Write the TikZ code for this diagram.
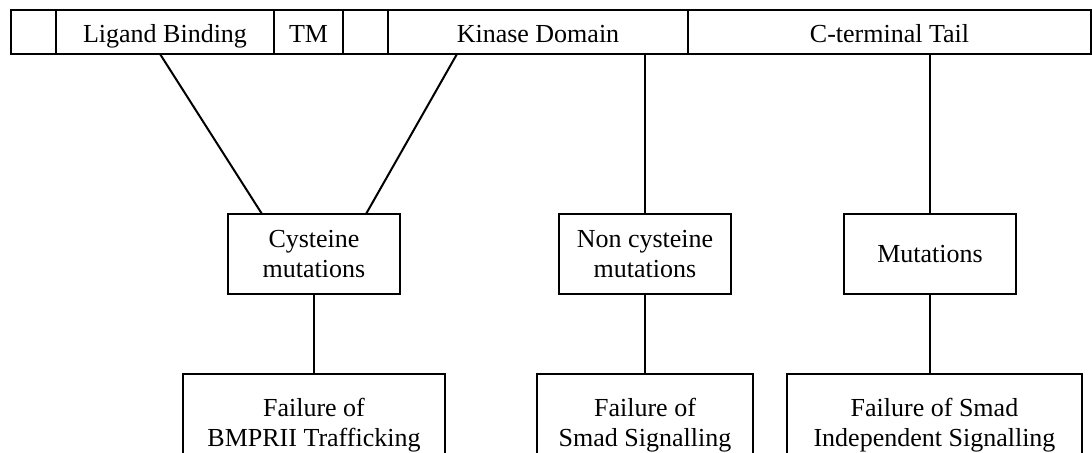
\documentclass[tikz,border=0pt]{standalone}
\usepackage{fontspec}
\setmainfont{Liberation Serif}
\usepackage{tikz}

\begin{document}
\begin{tikzpicture}[x=0.5pt, y=-0.5pt, line width=1pt,
  every node/.style={font=\fontsize{13}{15}\selectfont},
  seg/.style={draw, minimum height=22pt, text height=11pt, text depth=0pt, inner sep=0pt, outer sep=0pt},
  box/.style={draw, align=center, inner sep=0pt, outer sep=0pt}]
\useasboundingbox (0,0) rectangle (1092,453);
\node[seg, minimum width=22.5pt] (nterm) at (33.5,32) {};
\node[seg, minimum width=109pt] (lig) at (165,32) {Ligand Binding};
\node[seg, minimum width=34.5pt] (tm) at (308.5,32) {TM};
\node[seg, minimum width=22.5pt] (jm) at (365.5,32) {};
\node[seg, minimum width=150pt] (kin) at (538,32) {Kinase Domain};
\node[seg, minimum width=201.5pt] (ctail) at (889.5,32) {C-terminal Tail};
\node[box, minimum width=86pt, minimum height=40pt] (cys) at (314,254) {Cysteine\\mutations};
\node[box, minimum width=86pt, minimum height=40pt] (ncys) at (645,254) {Non cysteine\\mutations};
\node[box, minimum width=86pt, minimum height=40pt] (mut) at (930,254) {Mutations};
\node[box, minimum width=131pt, minimum height=51pt] (traf) at (314,425) {Failure of\\BMPRII Trafficking};
\node[box, minimum width=108pt, minimum height=51pt] (smad) at (645,425) {Failure of\\Smad Signalling};
\node[box, minimum width=147.5pt, minimum height=51pt] (indep) at (934.5,425) {Failure of Smad\\Independent Signalling};
\draw ([xshift=-2.5pt]lig.south) -- ([xshift=17pt]cys.north west);
\draw ([xshift=-40.5pt]kin.south) -- ([xshift=-17pt]cys.north east);
\draw (ncys.north) -- (ncys.north |- kin.south);
\draw (mut.north) -- (mut.north |- ctail.south);
\draw (cys.south) -- (cys.south |- traf.north);
\draw (ncys.south) -- (ncys.south |- smad.north);
\draw (mut.south) -- (mut.south |- indep.north);
\end{tikzpicture}
\end{document}
